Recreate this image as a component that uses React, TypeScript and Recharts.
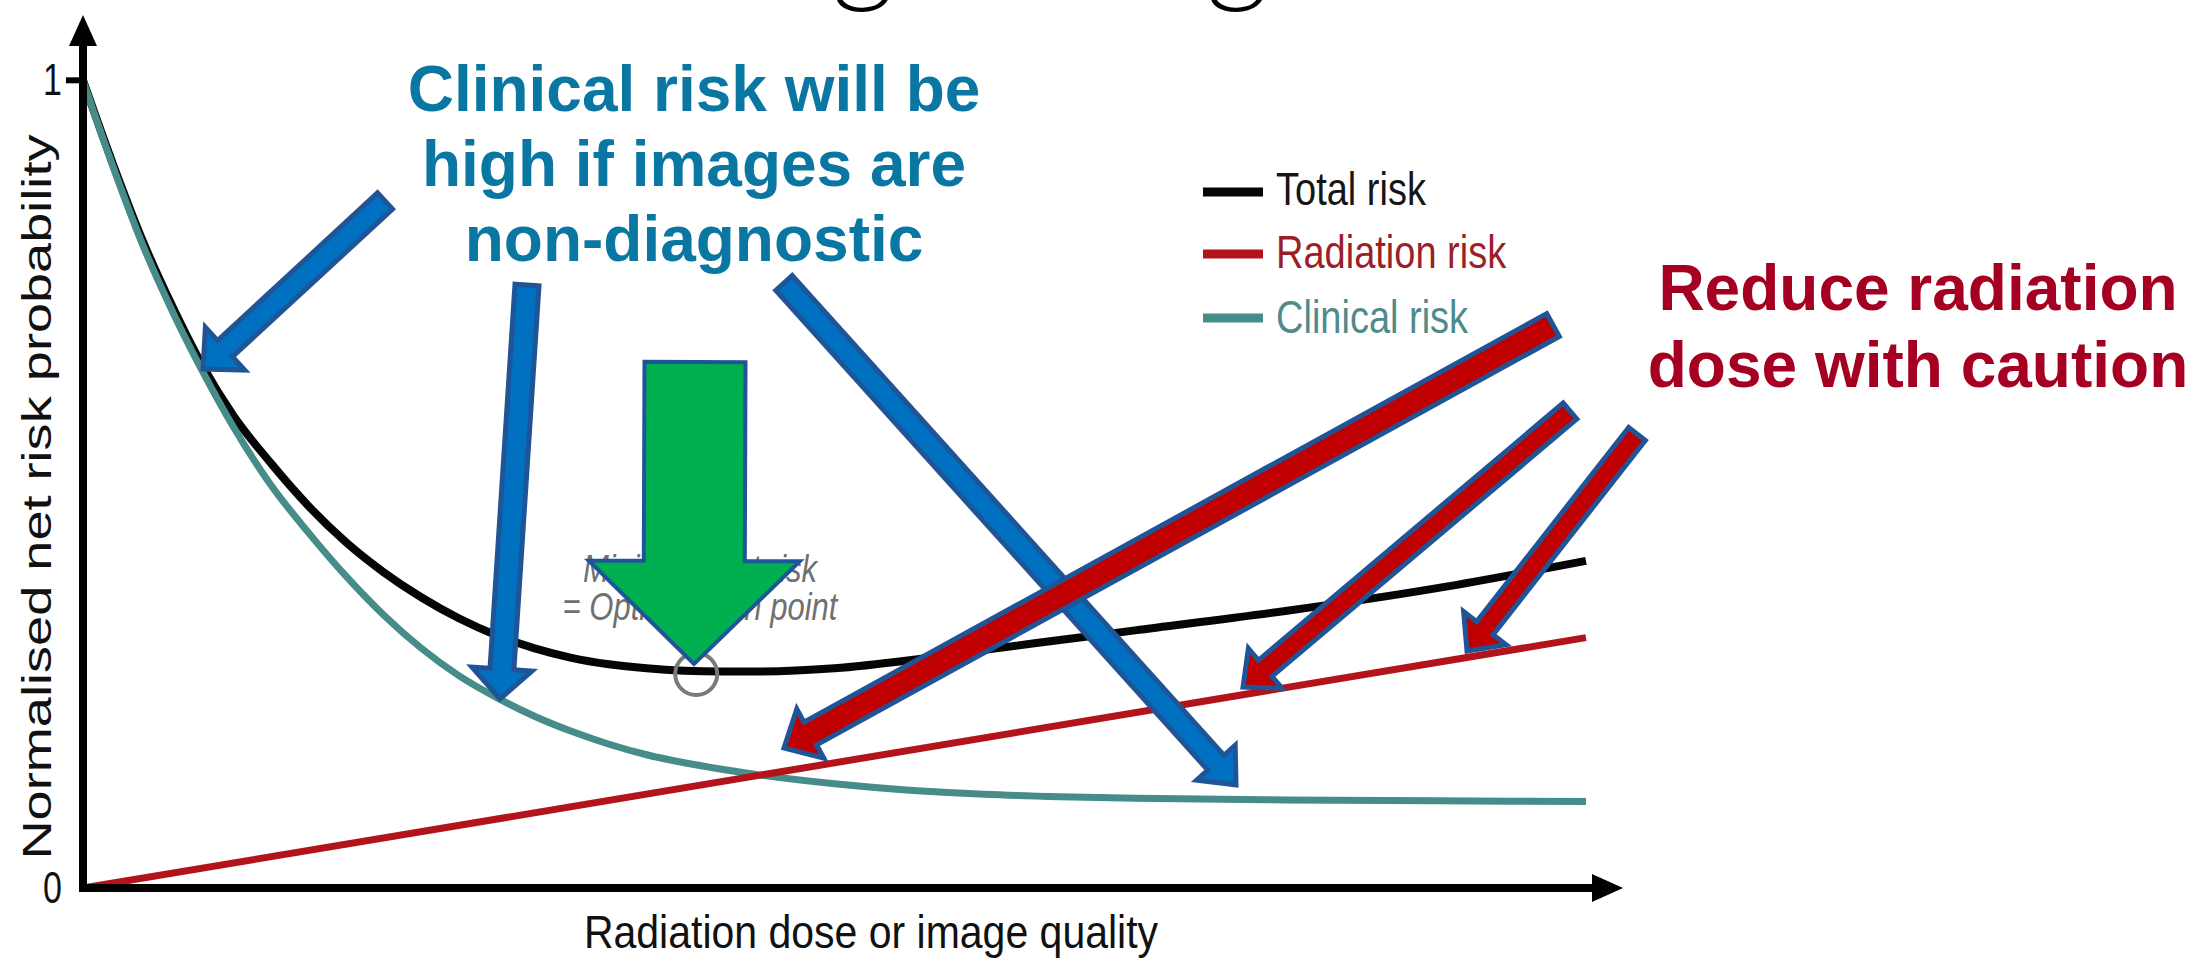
import React from 'react';
import { LineChart, Line, XAxis, YAxis, ReferenceDot } from 'recharts';

// ---------- data ----------
const doseLevels = [0, 2, 4, 6, 8, 10, 12.5, 15, 17.5, 20, 22.5, 25, 27.5, 30, 32.5, 35, 37.5, 40, 42.5, 45, 50, 55, 60, 65, 70, 80, 90, 100];
const totalRisk = [1.0, 0.896, 0.8, 0.718, 0.645, 0.585, 0.526, 0.473, 0.428, 0.391, 0.36, 0.334, 0.313, 0.297, 0.285, 0.277, 0.272, 0.269, 0.268, 0.268, 0.272, 0.282, 0.295, 0.307, 0.319, 0.343, 0.371, 0.405];
const radiationRisk: (number | null)[] = [0, null, null, null, null, null, null, null, null, null, null, null, null, null, null, null, null, null, null, null, null, null, null, null, null, null, null, 0.31];
const clinicalRisk = [1.0, 0.893, 0.795, 0.712, 0.638, 0.571, 0.499, 0.44, 0.386, 0.338, 0.297, 0.263, 0.236, 0.213, 0.194, 0.178, 0.165, 0.155, 0.147, 0.14, 0.129, 0.121, 0.116, 0.113, 0.111, 0.109, 0.108, 0.107];
const seriesNames = ['Total risk', 'Radiation risk', 'Clinical risk'];
const seriesKeys = ['total', 'radiation', 'clinical'];
const seriesColors = ['#050505', '#b3131b', '#468c89'];
const legendTextColors = ['#151515', '#9c1f27', '#4e8b8a'];
const yTicks = [0, 1];
const optimumDose = 40.8;
const optimumRisk = 0.265;

const data = doseLevels.map((dose, i) => ({
  dose,
  total: totalRisk[i],
  radiation: radiationRisk[i],
  clinical: clinicalRisk[i],
}));

// ---------- layout ----------
const W = 2203;
const H = 966;
const PLOT_LEFT = 83;
const PLOT_TOP = 48;
const PLOT_RIGHT = 1601;
const PLOT_BOTTOM = 888;
const FONT = "'Liberation Sans', Arial, Helvetica, sans-serif";

type Arrow = { tail: [number, number]; tip: [number, number]; shaft: number; headW: number; headL: number };

const blueArrows: Arrow[] = [
  { tail: [385, 201], tip: [203, 369], shaft: 22, headW: 58, headL: 30 },
  { tail: [527, 285], tip: [500, 699], shaft: 24, headW: 60, headL: 30 },
  { tail: [784, 283], tip: [1236, 785], shaft: 22, headW: 52, headL: 30 },
];
const redArrows: Arrow[] = [
  { tail: [1553, 325], tip: [784, 748], shaft: 26, headW: 56, headL: 30 },
  { tail: [1570, 411], tip: [1243, 687], shaft: 21, headW: 52, headL: 29 },
  { tail: [1637, 434], tip: [1467, 651], shaft: 21, headW: 54, headL: 29 },
];
const greenArrow: Arrow = { tail: [695, 362], tip: [694, 664], shaft: 101, headW: 211, headL: 103 };

function arrowPoints(a: Arrow): string {
  const [tx, ty] = a.tail;
  const [hx, hy] = a.tip;
  const dx = hx - tx;
  const dy = hy - ty;
  const L = Math.hypot(dx, dy);
  const ux = dx / L;
  const uy = dy / L;
  const px = -uy;
  const py = ux;
  const bx = hx - ux * a.headL;
  const by = hy - uy * a.headL;
  const s = a.shaft / 2;
  const w = a.headW / 2;
  const pts = [
    [tx + px * s, ty + py * s],
    [bx + px * s, by + py * s],
    [bx + px * w, by + py * w],
    [hx, hy],
    [bx - px * w, by - py * w],
    [bx - px * s, by - py * s],
    [tx - px * s, ty - py * s],
  ];
  return pts.map((p) => `${p[0].toFixed(1)},${p[1].toFixed(1)}`).join(' ');
}

const YTick = (props: any) => {
  const { y, payload } = props;
  return (
    <g>
      <text
        transform={`translate(62, ${y + 15}) scale(1, 1.3)`}
        textAnchor="end"
        fontSize={34}
        fontFamily={FONT}
        fill="#111"
      >
        {payload.value}
      </text>
      {payload.value === 1 && <line x1={66} x2={PLOT_LEFT} y1={y} y2={y} stroke="#000" strokeWidth={6} />}
    </g>
  );
};

const StretchText = ({ x, y, sy = 1, anchor = 'start', children, ...rest }: any) => (
  <text transform={`translate(${x}, ${y}) scale(1, ${sy})`} textAnchor={anchor} {...rest}>
    {children}
  </text>
);

export default function App() {
  return (
    <div style={{ position: 'absolute', left: 0, top: 0, width: W, height: H, background: '#fff', overflow: 'hidden' }}>
      <LineChart
        width={W}
        height={H}
        data={data}
        margin={{ top: PLOT_TOP, right: W - PLOT_RIGHT, bottom: 0, left: 0 }}
      >
        <XAxis
          dataKey="dose"
          type="number"
          domain={[0, 101]}
          tick={false}
          tickLine={false}
          height={H - PLOT_BOTTOM}
          axisLine={{ stroke: '#000', strokeWidth: 8, strokeLinecap: 'square' }}
        />
        <YAxis
          type="number"
          domain={[0, 1.04]}
          ticks={yTicks}
          interval={0}
          width={PLOT_LEFT}
          tick={<YTick />}
          tickLine={false}
          axisLine={{ stroke: '#000', strokeWidth: 8, strokeLinecap: 'square' }}
        />
        <Line
          type="monotone"
          dataKey={seriesKeys[0]}
          name={seriesNames[0]}
          stroke={seriesColors[0]}
          strokeWidth={8}
          dot={false}
          isAnimationActive={false}
        />
        <Line
          type="monotone"
          dataKey={seriesKeys[2]}
          name={seriesNames[2]}
          stroke={seriesColors[2]}
          strokeWidth={7}
          dot={false}
          isAnimationActive={false}
        />
        <Line
          type="linear"
          dataKey={seriesKeys[1]}
          name={seriesNames[1]}
          stroke={seriesColors[1]}
          strokeWidth={7}
          dot={false}
          connectNulls
          isAnimationActive={false}
        />
        <ReferenceDot
          x={optimumDose}
          y={optimumRisk}
          r={21}
          fill="none"
          stroke="#7a7a7a"
          strokeWidth={4}
        />
      </LineChart>

      <svg
        width={W}
        height={H}
        style={{ position: 'absolute', left: 0, top: 0, pointerEvents: 'none' }}
      >
        {/* slide title (cut off at the top) */}
        <text x={502} y={-11} fontSize={123} fontWeight={300} fontFamily="Lato, 'Open Sans', sans-serif" fill="#000">
          Striking the right balance
        </text>

        {/* axis arrowheads */}
        <polygon points={`${PLOT_LEFT},15 ${PLOT_LEFT - 14},46 ${PLOT_LEFT + 14},46`} fill="#000" />
        <polygon points={`1623,${PLOT_BOTTOM} 1592,${PLOT_BOTTOM - 14} 1592,${PLOT_BOTTOM + 14}`} fill="#000" />

        {/* axis titles */}
        <text
          transform="translate(51, 497) rotate(-90)"
          textAnchor="middle"
          fontSize={40}
          fontFamily={FONT}
          fill="#111"
          textLength={725}
          lengthAdjust="spacingAndGlyphs"
        >
          Normalised net risk probability
        </text>
        <StretchText x={871} y={948} sy={1.13} anchor="middle" fontSize={41} fontFamily={FONT} fill="#111">
          Radiation dose or image quality
        </StretchText>

        {/* legend */}
        {seriesNames.map((name, i) => {
          const sw = [192, 254, 318][i];
          const base = [205, 268, 333][i];
          return (
            <g key={name}>
              <line x1={1203} x2={1263} y1={sw} y2={sw} stroke={seriesColors[i]} strokeWidth={9} />
              <StretchText x={1276} y={base} sy={1.2} fontSize={38} fontFamily={FONT} fill={legendTextColors[i]}>
                {name}
              </StretchText>
            </g>
          );
        })}

        {/* optimisation point note */}
        <StretchText x={700} y={582} sy={1.25} anchor="middle" fontSize={31} fontStyle="italic" fontFamily={FONT} fill="#707070">
          Minimum net risk
        </StretchText>
        <StretchText x={700} y={620} sy={1.25} anchor="middle" fontSize={31} fontStyle="italic" fontFamily={FONT} fill="#707070">
          = Optimisation point
        </StretchText>

        {/* annotation texts */}
        <g fontFamily={FONT} fontWeight="bold" fontSize={64} textAnchor="middle" fill="#0a77a3">
          <text x={694} y={111}>Clinical risk will be</text>
          <text x={694} y={186}>high if images are</text>
          <text x={694} y={261}>non-diagnostic</text>
        </g>
        <g fontFamily={FONT} fontWeight="bold" fontSize={64} textAnchor="middle" fill="#a50021">
          <text x={1918} y={310}>Reduce radiation</text>
          <text x={1918} y={387}>dose with caution</text>
        </g>

        {/* arrows */}
        {blueArrows.map((a, i) => (
          <polygon key={'b' + i} points={arrowPoints(a)} fill="#0070c0" stroke="#1f5597" strokeWidth={5} strokeLinejoin="miter" />
        ))}
        {redArrows.map((a, i) => (
          <polygon key={'r' + i} points={arrowPoints(a)} fill="#c00000" stroke="#1f5597" strokeWidth={5} strokeLinejoin="miter" />
        ))}
        <polygon points={arrowPoints(greenArrow)} fill="#00b050" stroke="#1f5597" strokeWidth={4} strokeLinejoin="miter" />
      </svg>
    </div>
  );
}
